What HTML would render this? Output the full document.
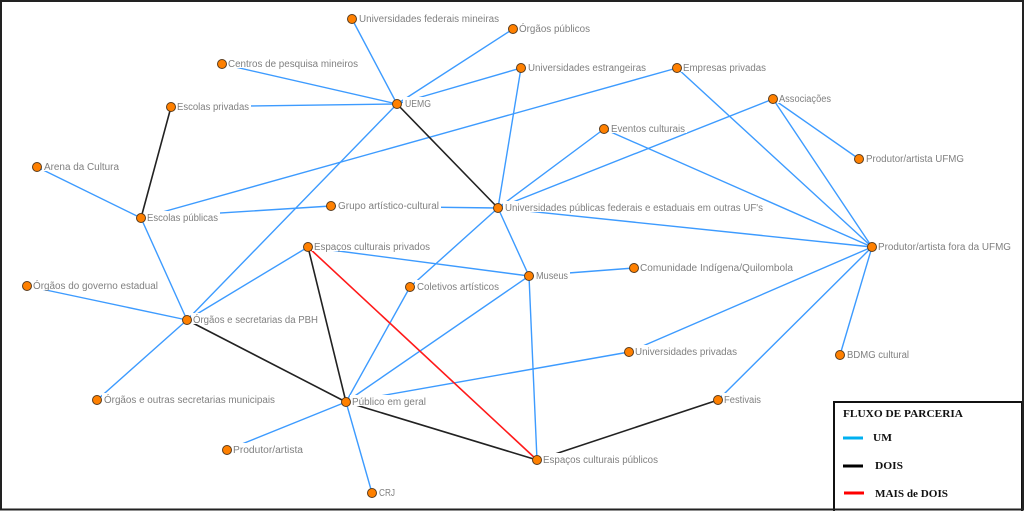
<!DOCTYPE html>
<html><head><meta charset="utf-8"><style>
html,body{margin:0;padding:0;background:#fff;}
svg{display:block;}
.l{font-family:"Liberation Sans",sans-serif;font-size:10px;fill:#808080;}
.g{font-family:"Liberation Serif",serif;font-size:10px;font-weight:bold;fill:#111;}
</style></head><body>
<svg width="1024" height="511" viewBox="0 0 1024 511" xmlns="http://www.w3.org/2000/svg">
<rect x="0" y="0" width="1024" height="511" fill="#fff"/>
<g stroke-width="1.4" fill="none" stroke-linecap="round">
<g stroke="#3d9bff">
<line x1="397" y1="104" x2="352" y2="19"/>
<line x1="397" y1="104" x2="513" y2="29"/>
<line x1="397" y1="104" x2="222" y2="64"/>
<line x1="397" y1="104" x2="521" y2="68"/>
<line x1="397" y1="104" x2="171" y2="107"/>
<line x1="397" y1="104" x2="187" y2="320"/>
<line x1="141" y1="218" x2="677" y2="68"/>
<line x1="141" y1="218" x2="331" y2="206"/>
<line x1="141" y1="218" x2="37" y2="167"/>
<line x1="141" y1="218" x2="187" y2="320"/>
<line x1="331" y1="206" x2="498" y2="208"/>
<line x1="498" y1="208" x2="521" y2="68"/>
<line x1="498" y1="208" x2="604" y2="129"/>
<line x1="498" y1="208" x2="773" y2="99"/>
<line x1="498" y1="208" x2="872" y2="247"/>
<line x1="498" y1="208" x2="529" y2="276"/>
<line x1="498" y1="208" x2="410" y2="287"/>
<line x1="677" y1="68" x2="872" y2="247"/>
<line x1="604" y1="129" x2="872" y2="247"/>
<line x1="773" y1="99" x2="872" y2="247"/>
<line x1="773" y1="99" x2="859" y2="159"/>
<line x1="872" y1="247" x2="840" y2="355"/>
<line x1="872" y1="247" x2="629" y2="352"/>
<line x1="872" y1="247" x2="718" y2="400"/>
<line x1="308" y1="247" x2="187" y2="320"/>
<line x1="308" y1="247" x2="529" y2="276"/>
<line x1="529" y1="276" x2="634" y2="268"/>
<line x1="529" y1="276" x2="346" y2="402"/>
<line x1="529" y1="276" x2="537" y2="460"/>
<line x1="410" y1="287" x2="346" y2="402"/>
<line x1="629" y1="352" x2="346" y2="402"/>
<line x1="27" y1="286" x2="187" y2="320"/>
<line x1="187" y1="320" x2="97" y2="400"/>
<line x1="346" y1="402" x2="227" y2="450"/>
<line x1="346" y1="402" x2="372" y2="493"/>
</g>
<g stroke="#222" stroke-width="1.6">
<line x1="397" y1="104" x2="498" y2="208"/>
<line x1="171" y1="107" x2="141" y2="218"/>
<line x1="308" y1="247" x2="346" y2="402"/>
<line x1="187" y1="320" x2="346" y2="402"/>
<line x1="346" y1="402" x2="537" y2="460"/>
<line x1="537" y1="460" x2="718" y2="400"/>
</g>
<line x1="308" y1="247" x2="537" y2="460" stroke="#ff1a1a" stroke-width="1.6"/>
</g>
<!-- label backgrounds -->
<g fill="#fff">
<rect x="357" y="12" width="144" height="11"/>
<rect x="517" y="22" width="75" height="11"/>
<rect x="226" y="57" width="134" height="11"/>
<rect x="526" y="61" width="122" height="11"/>
<rect x="681" y="61" width="87" height="11"/>
<rect x="403" y="97" width="30" height="11"/>
<rect x="175" y="100" width="76" height="11"/>
<rect x="777" y="92" width="56" height="11"/>
<rect x="609" y="122" width="78" height="11"/>
<rect x="864" y="152" width="102" height="11"/>
<rect x="42" y="160" width="79" height="11"/>
<rect x="145" y="211" width="75" height="11"/>
<rect x="336" y="199" width="105" height="11"/>
<rect x="503" y="201" width="262" height="11"/>
<rect x="876" y="240" width="137" height="11"/>
<rect x="312" y="240" width="120" height="11"/>
<rect x="534" y="269" width="36" height="11"/>
<rect x="638" y="261" width="157" height="11"/>
<rect x="415" y="280" width="86" height="11"/>
<rect x="31" y="279" width="129" height="11"/>
<rect x="191" y="313" width="129" height="11"/>
<rect x="633" y="345" width="106" height="11"/>
<rect x="845" y="348" width="66" height="11"/>
<rect x="102" y="393" width="175" height="11"/>
<rect x="350" y="395" width="78" height="11"/>
<rect x="722" y="393" width="41" height="11"/>
<rect x="231" y="443" width="74" height="11"/>
<rect x="541" y="453" width="119" height="11"/>
<rect x="377" y="486" width="20" height="11"/>
</g>
<!-- labels -->
<g class="l" lengthAdjust="spacingAndGlyphs">
<text x="359" y="22" textLength="140" lengthAdjust="spacingAndGlyphs">Universidades federais mineiras</text>
<text x="519" y="32" textLength="71" lengthAdjust="spacingAndGlyphs">Órgãos públicos</text>
<text x="228" y="67" textLength="130" lengthAdjust="spacingAndGlyphs">Centros de pesquisa mineiros</text>
<text x="528" y="71" textLength="118" lengthAdjust="spacingAndGlyphs">Universidades estrangeiras</text>
<text x="683" y="71" textLength="83" lengthAdjust="spacingAndGlyphs">Empresas privadas</text>
<text x="405" y="107" textLength="26" lengthAdjust="spacingAndGlyphs">UEMG</text>
<text x="177" y="110" textLength="72" lengthAdjust="spacingAndGlyphs">Escolas privadas</text>
<text x="779" y="102" textLength="52" lengthAdjust="spacingAndGlyphs">Associações</text>
<text x="611" y="132" textLength="74" lengthAdjust="spacingAndGlyphs">Eventos culturais</text>
<text x="866" y="162" textLength="98" lengthAdjust="spacingAndGlyphs">Produtor/artista UFMG</text>
<text x="44" y="170" textLength="75" lengthAdjust="spacingAndGlyphs">Arena da Cultura</text>
<text x="147" y="221" textLength="71" lengthAdjust="spacingAndGlyphs">Escolas públicas</text>
<text x="338" y="209" textLength="101" lengthAdjust="spacingAndGlyphs">Grupo artístico-cultural</text>
<text x="505" y="211" textLength="258" lengthAdjust="spacingAndGlyphs">Universidades públicas federais e estaduais em outras UF's</text>
<text x="878" y="250" textLength="133" lengthAdjust="spacingAndGlyphs">Produtor/artista fora da UFMG</text>
<text x="314" y="250" textLength="116" lengthAdjust="spacingAndGlyphs">Espaços culturais privados</text>
<text x="536" y="279" textLength="32" lengthAdjust="spacingAndGlyphs">Museus</text>
<text x="640" y="271" textLength="153" lengthAdjust="spacingAndGlyphs">Comunidade Indígena/Quilombola</text>
<text x="417" y="290" textLength="82" lengthAdjust="spacingAndGlyphs">Coletivos artísticos</text>
<text x="33" y="289" textLength="125" lengthAdjust="spacingAndGlyphs">Órgãos do governo estadual</text>
<text x="193" y="323" textLength="125" lengthAdjust="spacingAndGlyphs">Órgãos e secretarias da PBH</text>
<text x="635" y="355" textLength="102" lengthAdjust="spacingAndGlyphs">Universidades privadas</text>
<text x="847" y="358" textLength="62" lengthAdjust="spacingAndGlyphs">BDMG cultural</text>
<text x="104" y="403" textLength="171" lengthAdjust="spacingAndGlyphs">Órgãos e outras secretarias municipais</text>
<text x="352" y="405" textLength="74" lengthAdjust="spacingAndGlyphs">Público em geral</text>
<text x="724" y="403" textLength="37" lengthAdjust="spacingAndGlyphs">Festivais</text>
<text x="233" y="453" textLength="70" lengthAdjust="spacingAndGlyphs">Produtor/artista</text>
<text x="543" y="463" textLength="115" lengthAdjust="spacingAndGlyphs">Espaços culturais públicos</text>
<text x="379" y="496" textLength="16" lengthAdjust="spacingAndGlyphs">CRJ</text>
</g>
<!-- nodes -->
<g fill="#ff8000" stroke="#5a3b1c" stroke-width="1">
<circle cx="352" cy="19" r="4.5"/>
<circle cx="513" cy="29" r="4.5"/>
<circle cx="222" cy="64" r="4.5"/>
<circle cx="521" cy="68" r="4.5"/>
<circle cx="677" cy="68" r="4.5"/>
<circle cx="397" cy="104" r="4.5"/>
<circle cx="171" cy="107" r="4.5"/>
<circle cx="773" cy="99" r="4.5"/>
<circle cx="604" cy="129" r="4.5"/>
<circle cx="859" cy="159" r="4.5"/>
<circle cx="37" cy="167" r="4.5"/>
<circle cx="141" cy="218" r="4.5"/>
<circle cx="331" cy="206" r="4.5"/>
<circle cx="498" cy="208" r="4.5"/>
<circle cx="872" cy="247" r="4.5"/>
<circle cx="308" cy="247" r="4.5"/>
<circle cx="529" cy="276" r="4.5"/>
<circle cx="634" cy="268" r="4.5"/>
<circle cx="410" cy="287" r="4.5"/>
<circle cx="27" cy="286" r="4.5"/>
<circle cx="187" cy="320" r="4.5"/>
<circle cx="629" cy="352" r="4.5"/>
<circle cx="840" cy="355" r="4.5"/>
<circle cx="97" cy="400" r="4.5"/>
<circle cx="346" cy="402" r="4.5"/>
<circle cx="718" cy="400" r="4.5"/>
<circle cx="227" cy="450" r="4.5"/>
<circle cx="537" cy="460" r="4.5"/>
<circle cx="372" cy="493" r="4.5"/>
</g>
<!-- legend -->
<rect x="834" y="402" width="188" height="112" fill="#fff" stroke="#111" stroke-width="2"/>
<text class="g" x="843" y="417" textLength="120" lengthAdjust="spacingAndGlyphs">FLUXO DE PARCERIA</text>
<line x1="843" y1="438" x2="863" y2="438" stroke="#00b0f0" stroke-width="3"/>
<text class="g" x="873" y="441" textLength="19" lengthAdjust="spacingAndGlyphs">UM</text>
<line x1="843" y1="466" x2="863" y2="466" stroke="#000" stroke-width="3"/>
<text class="g" x="875" y="469" textLength="28" lengthAdjust="spacingAndGlyphs">DOIS</text>
<line x1="844" y1="493" x2="864" y2="493" stroke="#ff0000" stroke-width="3"/>
<text class="g" x="875" y="497" textLength="73" lengthAdjust="spacingAndGlyphs">MAIS de DOIS</text>
<!-- outer border -->
<rect x="1" y="1" width="1022" height="508.5" fill="none" stroke="#222" stroke-width="2"/>
</svg>
</body></html>
